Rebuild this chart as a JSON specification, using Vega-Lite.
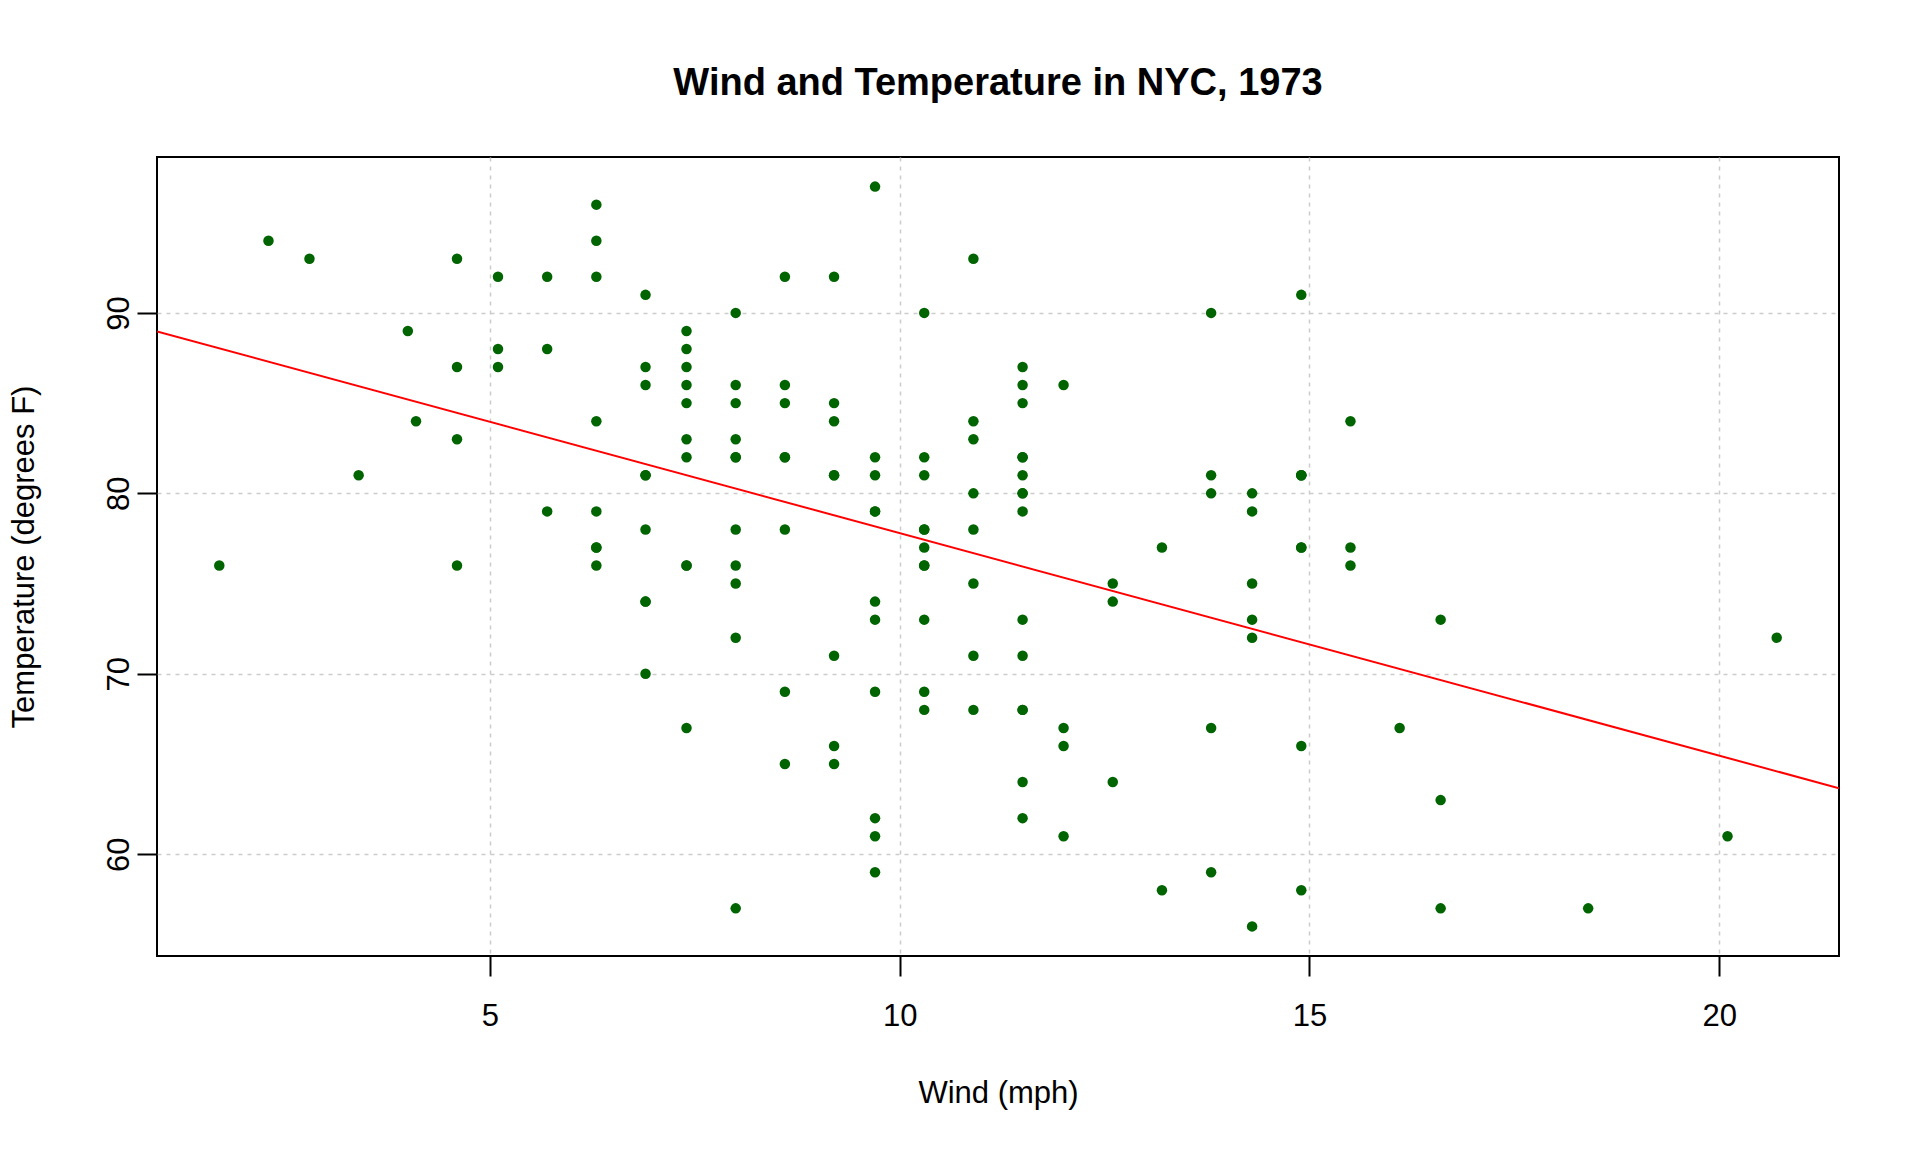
{
  "$schema": "https://vega.github.io/schema/vega-lite/v6.json",
  "width": 1682,
  "height": 799,
  "autosize": {"type": "none"},
  "padding": {"left": 157, "top": 157, "right": 81, "bottom": 196},
  "background": "white",
  "config": {
    "font": "Liberation Sans",
    "view": {"stroke": "black", "strokeWidth": 2},
    "axis": {
      "grid": true,
      "gridColor": "#cccccc",
      "gridDash": [4, 5],
      "gridWidth": 1.5,
      "domain": false,
      "tickColor": "black",
      "tickSize": 20,
      "tickWidth": 2,
      "labelFontSize": 31,
      "labelColor": "black",
      "titleFontSize": 31,
      "titleFontWeight": "normal",
      "titleColor": "black"
    }
  },
  "title": {
    "text": "Wind and Temperature in NYC, 1973",
    "fontSize": 38,
    "fontWeight": "bold",
    "color": "black",
    "anchor": "middle",
    "baseline": "alphabetic",
    "offset": 24
  },
  "data": {
    "values": [
      {"Wind": 7.4, "Temp": 67}, {"Wind": 8.0, "Temp": 72}, {"Wind": 12.6, "Temp": 74}, {"Wind": 11.5, "Temp": 62},
      {"Wind": 14.3, "Temp": 56}, {"Wind": 14.9, "Temp": 66}, {"Wind": 8.6, "Temp": 65}, {"Wind": 13.8, "Temp": 59},
      {"Wind": 20.1, "Temp": 61}, {"Wind": 8.6, "Temp": 69}, {"Wind": 6.9, "Temp": 74}, {"Wind": 9.7, "Temp": 69},
      {"Wind": 9.2, "Temp": 66}, {"Wind": 10.9, "Temp": 68}, {"Wind": 13.2, "Temp": 58}, {"Wind": 11.5, "Temp": 64},
      {"Wind": 12.0, "Temp": 66}, {"Wind": 18.4, "Temp": 57}, {"Wind": 11.5, "Temp": 68}, {"Wind": 9.7, "Temp": 62},
      {"Wind": 9.7, "Temp": 59}, {"Wind": 16.6, "Temp": 73}, {"Wind": 9.7, "Temp": 61}, {"Wind": 12.0, "Temp": 61},
      {"Wind": 16.6, "Temp": 57}, {"Wind": 14.9, "Temp": 58}, {"Wind": 8.0, "Temp": 57}, {"Wind": 12.0, "Temp": 67},
      {"Wind": 14.9, "Temp": 81}, {"Wind": 5.7, "Temp": 79}, {"Wind": 7.4, "Temp": 76}, {"Wind": 8.6, "Temp": 78},
      {"Wind": 9.7, "Temp": 74}, {"Wind": 16.1, "Temp": 67}, {"Wind": 9.2, "Temp": 84}, {"Wind": 8.6, "Temp": 85},
      {"Wind": 14.3, "Temp": 79}, {"Wind": 9.7, "Temp": 82}, {"Wind": 6.9, "Temp": 87}, {"Wind": 13.8, "Temp": 90},
      {"Wind": 11.5, "Temp": 87}, {"Wind": 10.9, "Temp": 93}, {"Wind": 9.2, "Temp": 92}, {"Wind": 8.0, "Temp": 82},
      {"Wind": 13.8, "Temp": 80}, {"Wind": 11.5, "Temp": 79}, {"Wind": 14.9, "Temp": 77}, {"Wind": 20.7, "Temp": 72},
      {"Wind": 9.2, "Temp": 65}, {"Wind": 11.5, "Temp": 73}, {"Wind": 10.3, "Temp": 76}, {"Wind": 6.3, "Temp": 77},
      {"Wind": 1.7, "Temp": 76}, {"Wind": 4.6, "Temp": 76}, {"Wind": 6.3, "Temp": 76}, {"Wind": 8.0, "Temp": 75},
      {"Wind": 8.0, "Temp": 78}, {"Wind": 10.3, "Temp": 73}, {"Wind": 11.5, "Temp": 80}, {"Wind": 14.9, "Temp": 77},
      {"Wind": 8.0, "Temp": 83}, {"Wind": 4.1, "Temp": 84}, {"Wind": 9.2, "Temp": 85}, {"Wind": 9.2, "Temp": 81},
      {"Wind": 10.9, "Temp": 84}, {"Wind": 4.6, "Temp": 83}, {"Wind": 10.9, "Temp": 83}, {"Wind": 5.1, "Temp": 88},
      {"Wind": 6.3, "Temp": 92}, {"Wind": 5.7, "Temp": 92}, {"Wind": 7.4, "Temp": 89}, {"Wind": 8.6, "Temp": 82},
      {"Wind": 14.3, "Temp": 73}, {"Wind": 14.9, "Temp": 81}, {"Wind": 14.9, "Temp": 91}, {"Wind": 14.3, "Temp": 80},
      {"Wind": 6.9, "Temp": 81}, {"Wind": 10.3, "Temp": 82}, {"Wind": 6.3, "Temp": 84}, {"Wind": 5.1, "Temp": 87},
      {"Wind": 11.5, "Temp": 85}, {"Wind": 6.9, "Temp": 74}, {"Wind": 9.7, "Temp": 81}, {"Wind": 11.5, "Temp": 82},
      {"Wind": 8.6, "Temp": 86}, {"Wind": 8.0, "Temp": 85}, {"Wind": 8.6, "Temp": 82}, {"Wind": 12.0, "Temp": 86},
      {"Wind": 7.4, "Temp": 88}, {"Wind": 7.4, "Temp": 86}, {"Wind": 7.4, "Temp": 83}, {"Wind": 9.2, "Temp": 81},
      {"Wind": 6.9, "Temp": 81}, {"Wind": 13.8, "Temp": 81}, {"Wind": 7.4, "Temp": 82}, {"Wind": 6.9, "Temp": 86},
      {"Wind": 7.4, "Temp": 85}, {"Wind": 4.6, "Temp": 87}, {"Wind": 4.0, "Temp": 89}, {"Wind": 10.3, "Temp": 90},
      {"Wind": 8.0, "Temp": 90}, {"Wind": 8.6, "Temp": 92}, {"Wind": 11.5, "Temp": 86}, {"Wind": 11.5, "Temp": 82},
      {"Wind": 11.5, "Temp": 80}, {"Wind": 9.7, "Temp": 79}, {"Wind": 11.5, "Temp": 81}, {"Wind": 10.3, "Temp": 77},
      {"Wind": 6.3, "Temp": 79}, {"Wind": 7.4, "Temp": 76}, {"Wind": 10.9, "Temp": 78}, {"Wind": 10.3, "Temp": 78},
      {"Wind": 15.5, "Temp": 77}, {"Wind": 14.3, "Temp": 72}, {"Wind": 12.6, "Temp": 75}, {"Wind": 9.7, "Temp": 79},
      {"Wind": 3.4, "Temp": 81}, {"Wind": 8.0, "Temp": 86}, {"Wind": 5.7, "Temp": 88}, {"Wind": 9.7, "Temp": 97},
      {"Wind": 2.3, "Temp": 94}, {"Wind": 6.3, "Temp": 96}, {"Wind": 6.3, "Temp": 94}, {"Wind": 6.9, "Temp": 91},
      {"Wind": 5.1, "Temp": 92}, {"Wind": 2.8, "Temp": 93}, {"Wind": 4.6, "Temp": 93}, {"Wind": 7.4, "Temp": 87},
      {"Wind": 15.5, "Temp": 84}, {"Wind": 10.9, "Temp": 80}, {"Wind": 10.3, "Temp": 78}, {"Wind": 10.9, "Temp": 75},
      {"Wind": 9.7, "Temp": 73}, {"Wind": 14.9, "Temp": 81}, {"Wind": 15.5, "Temp": 76}, {"Wind": 6.3, "Temp": 77},
      {"Wind": 10.9, "Temp": 71}, {"Wind": 11.5, "Temp": 71}, {"Wind": 6.9, "Temp": 78}, {"Wind": 13.8, "Temp": 67},
      {"Wind": 10.3, "Temp": 76}, {"Wind": 10.3, "Temp": 68}, {"Wind": 8.0, "Temp": 82}, {"Wind": 12.6, "Temp": 64},
      {"Wind": 9.2, "Temp": 71}, {"Wind": 10.3, "Temp": 81}, {"Wind": 10.3, "Temp": 69}, {"Wind": 16.6, "Temp": 63},
      {"Wind": 6.9, "Temp": 70}, {"Wind": 13.2, "Temp": 77}, {"Wind": 14.3, "Temp": 75}, {"Wind": 8.0, "Temp": 76},
      {"Wind": 11.5, "Temp": 68}
    ]
  },
  "encoding": {
    "x": {
      "field": "Wind",
      "type": "quantitative",
      "scale": {"domain": [0.94, 21.46], "nice": false, "zero": false},
      "axis": {
        "title": "Wind (mph)",
        "values": [5, 10, 15, 20],
        "labelPadding": 25,
        "titlePadding": 47
      }
    },
    "y": {
      "field": "Temp",
      "type": "quantitative",
      "scale": {"domain": [54.36, 98.64], "nice": false, "zero": false},
      "axis": {
        "title": "Temperature (degrees F)",
        "values": [60, 70, 80, 90],
        "labelAngle": 270,
        "labelAlign": "center",
        "labelBaseline": "alphabetic",
        "labelPadding": 9,
        "titleBaseline": "alphabetic",
        "titlePadding": 70
      }
    }
  },
  "layer": [
    {
      "mark": {"type": "circle", "color": "#006400", "opacity": 1, "size": 110}
    },
    {
      "transform": [{"regression": "Temp", "on": "Wind", "extent": [0.94, 21.46]}],
      "mark": {"type": "line", "color": "red", "strokeWidth": 2, "clip": true}
    }
  ]
}
